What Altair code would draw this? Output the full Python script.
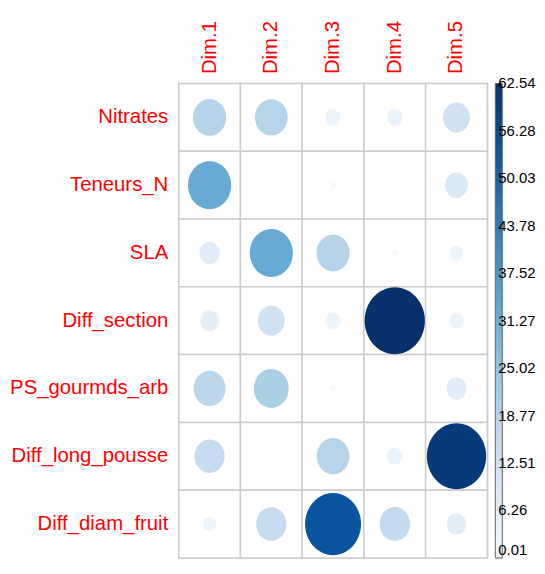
import altair as alt
import pandas as pd

variables = ["Nitrates", "Teneurs_N", "SLA", "Diff_section",
             "PS_gourmds_arb", "Diff_long_pousse", "Diff_diam_fruit"]
dims = ["Dim.1", "Dim.2", "Dim.3", "Dim.4", "Dim.5"]

dim1 = [19.0, 32.0, 7.0, 6.0, 17.5, 15.5, 3.0]
dim2 = [18.5, 0.1, 32.0, 12.5, 21.0, 0.05, 15.8]
dim3 = [3.7, 0.6, 19.0, 3.8, 0.4, 18.5, 54.0]
dim4 = [4.0, 0.2, 0.5, 62.54, 0.1, 4.0, 16.0]
dim5 = [12.5, 9.0, 3.0, 3.5, 7.0, 60.5, 6.5]

legend_values = [0.01, 6.26, 12.51, 18.77, 25.02, 31.27, 37.52, 43.78, 50.03, 56.28, 62.54]
blues = ["#F7FBFF", "#DEEBF7", "#C6DBEF", "#9ECAE1", "#6BAED6",
         "#4292C6", "#2171B5", "#08519C", "#08306B"]

rows = []
for d, vals in zip(dims, [dim1, dim2, dim3, dim4, dim5]):
    for var, val in zip(variables, vals):
        rows.append({"dim": d, "var": var, "value": val})
df = pd.DataFrame(rows)

vmin, vmax = legend_values[0], legend_values[-1]
FONT = "Liberation Sans"
W, H = 311, 478

x = alt.X("dim:N", sort=dims,
          scale=alt.Scale(paddingInner=0, paddingOuter=0),
          axis=alt.Axis(orient="top", labelAngle=-90, labelColor="#FF0000",
                        labelFontSize=20.5, labelFont=FONT, ticks=False,
                        domain=False, title=None, labelPadding=10, grid=False))
y = alt.Y("var:N", sort=variables,
          scale=alt.Scale(paddingInner=0, paddingOuter=0),
          axis=alt.Axis(labelColor="#FF0000", labelFontSize=20.5, labelFont=FONT,
                        ticks=False, domain=False, title=None, labelPadding=11,
                        grid=False))

cells = alt.Chart(df).mark_rect(fill="white", stroke="#CCCCCC",
                                strokeWidth=1.5).encode(x=x, y=y)

ellipse = ("M0,-1C0.497,-1,0.9,-0.552,0.9,0C0.9,0.552,0.497,1,0,1"
           "C-0.497,1,-0.9,0.552,-0.9,0C-0.9,-0.552,-0.497,-1,0,-1Z")

points = alt.Chart(df).mark_point(filled=True, shape=ellipse, opacity=1,
                                  strokeWidth=0).encode(
    x=x, y=y,
    size=alt.Size("value:Q", scale=alt.Scale(domain=[0, vmax], range=[0, 4550]),
                  legend=None),
    color=alt.Color("value:Q",
                    scale=alt.Scale(domain=[vmin, vmax], range=blues,
                                    interpolate="rgb"),
                    legend=None),
)

main = alt.layer(cells, points).properties(width=W, height=H)

# colour bar
bar_scale = alt.Scale(domain=[vmin, vmax], nice=False, zero=False)
bar_df = pd.DataFrame({"lo": [vmin], "hi": [vmax]})
grad = alt.Gradient(
    gradient="linear",
    stops=[alt.GradientStop(color=c, offset=i / (len(blues) - 1))
           for i, c in enumerate(blues)],
    x1=0, x2=0, y1=1, y2=0,
)
bar = alt.Chart(bar_df).mark_rect(color=grad, stroke="#666666",
                                  strokeWidth=1).encode(
    y=alt.Y("lo:Q", scale=bar_scale, axis=None),
    y2="hi",
    x=alt.value(0), x2=alt.value(7),
)
lab_df = pd.DataFrame({"v": legend_values})
lab_enc = dict(
    y=alt.Y("v:Q", scale=bar_scale, axis=None),
    x=alt.value(3),
    text=alt.Text("v:Q", format=".2f"),
)
labels_mid = alt.Chart(lab_df).mark_text(
    align="left", baseline="middle", fontSize=15, font=FONT, color="#000000"
).encode(**lab_enc).transform_filter(alt.datum.v > vmin)
labels_low = alt.Chart(lab_df).mark_text(
    align="left", baseline="bottom", fontSize=15, font=FONT, color="#000000"
).encode(**lab_enc).transform_filter(alt.datum.v <= vmin)
colorbar = alt.layer(bar, labels_mid, labels_low).properties(width=7, height=H)

chart = alt.hconcat(main, colorbar, spacing=5).resolve_scale(
    y="independent"
).properties(
    padding={"left": 0, "top": 9, "right": 0, "bottom": 0},
).configure_view(stroke=None).configure(background="white")

chart.save("out.html", embed_options={"renderer": "svg", "actions": False})
